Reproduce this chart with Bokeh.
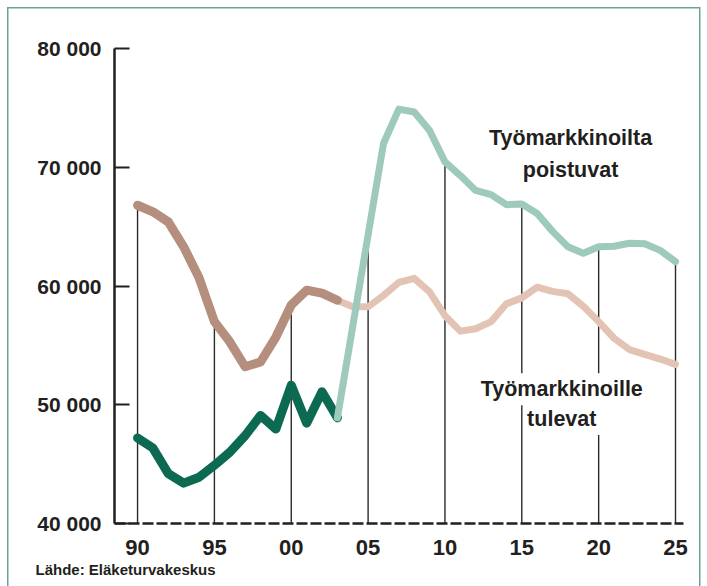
from bokeh.plotting import figure
from bokeh.models import FixedTicker, Label, Title
from bokeh.embed import file_html
from bokeh.resources import INLINE

# ---- data ----
years_hist = list(range(1990, 2004))
years_proj = list(range(2003, 2026))

entering_hist = [66800, 66250, 65400, 63300, 60700, 57000, 55300, 53200, 53600,
                 55700, 58400, 59650, 59400, 58800]
entering_proj = [58800, 58250, 58250, 59200, 60300, 60650, 59500, 57500, 56200,
                 56400, 57000, 58500, 59000, 59900, 59550, 59350, 58300, 57000,
                 55600, 54650, 54250, 53850, 53400]

leaving_hist = [47200, 46350, 44200, 43400, 43900, 44900, 46000, 47400, 49100,
                47950, 51650, 48450, 51100, 48900]
leaving_proj = [48900, 56600, 64300, 72000, 74900, 74650, 73100, 70450, 69300,
                68050, 67700, 66850, 66900, 66100, 64600, 63300, 62750, 63300,
                63350, 63600, 63550, 63000, 62050]

x_ticks = [1990, 1995, 2000, 2005, 2010, 2015, 2020, 2025]
x_tick_labels = ["90", "95", "00", "05", "10", "15", "20", "25"]
y_ticks = [40000, 50000, 60000, 70000, 80000]
y_tick_labels = ["40 000", "50 000", "60 000", "70 000", "80 000"]

label_leaving = ["Työmarkkinoilta", "poistuvat"]
label_entering = ["Työmarkkinoille", "tulevat"]
source_text = "Lähde: Eläketurvakeskus"

# ---- styling ----
FONT = "Liberation Sans"
TXT = "#231f20"
BROWN_D = "#b58e7e"
BROWN_L = "#e3c3b4"
GREEN_D = "#0d6a52"
TEAL_L = "#9ec9bd"
BORDER = "#6aa597"

frame_css = {
    "background-color": "white",
    "background-image": (f"linear-gradient({BORDER}, {BORDER}), "
                         f"linear-gradient({BORDER}, {BORDER}), "
                         f"linear-gradient({BORDER}, {BORDER})"),
    "background-size": "1.5px 600px, 693px 1.5px, 1.5px 600px",
    "background-position": "7px 7px, 7px 7px, 699px 7px",
    "background-repeat": "no-repeat",
}

p = figure(width=707, height=586, output_backend="svg", toolbar_location=None,
           x_range=(1988.5, 2025.52), y_range=(40000, 80000),
           min_border_left=114, min_border_right=24, min_border_top=48,
           min_border_bottom=63, styles=frame_css)
p.grid.visible = False
p.outline_line_color = None
p.background_fill_color = "white"
p.border_fill_color = None

# droplines at the labelled years, up to the top series value
all_vals = {}
for yrs, vals in ((years_hist, entering_hist), (years_proj, entering_proj),
                  (years_hist, leaving_hist), (years_proj, leaving_proj)):
    for yr, v in zip(yrs, vals):
        all_vals[yr] = max(all_vals.get(yr, 0), v)
drop_top = [all_vals[t] for t in x_ticks]
p.segment(x0=x_ticks, y0=[y_ticks[0]] * len(x_ticks), x1=x_ticks, y1=drop_top,
          line_color="#2a2a2a", line_width=1.4)

# series
p.line(years_proj, entering_proj, line_color=BROWN_L, line_width=7,
       line_cap="round", line_join="round")
p.line(years_hist, entering_hist, line_color=BROWN_D, line_width=9,
       line_cap="round", line_join="round")
p.line(years_hist, leaving_hist, line_color=GREEN_D, line_width=9,
       line_cap="round", line_join="round")
p.line(years_proj, leaving_proj, line_color=TEAL_L, line_width=7,
       line_cap="round", line_join="round")

# axes
xa = p.xaxis[0]
xa.ticker = FixedTicker(ticks=x_ticks)
xa.major_label_overrides = {t: l for t, l in zip(x_ticks, x_tick_labels)}
xa.axis_line_width = 2.5
xa.axis_line_color = TXT
xa.axis_line_dash = "11 3"
xa.major_tick_in = 0
xa.major_tick_out = 0
xa.minor_tick_line_color = None
xa.major_label_standoff = 16
xa.major_label_text_font = FONT
xa.major_label_text_font_style = "bold"
xa.major_label_text_font_size = "22px"
xa.major_label_text_color = TXT

ya = p.yaxis[0]
ya.ticker = FixedTicker(ticks=y_ticks)
ya.major_label_overrides = {t: l for t, l in zip(y_ticks, y_tick_labels)}
ya.axis_line_width = 2.5
ya.axis_line_color = TXT
ya.major_tick_in = 15
ya.major_tick_out = 0
ya.major_tick_line_width = 2
ya.major_tick_line_color = TXT
ya.minor_tick_line_color = None
ya.major_label_standoff = 13
ya.major_label_text_font = FONT
ya.major_label_text_font_style = "bold"
ya.major_label_text_font_size = "21px"
ya.major_label_text_color = TXT

# series labels
def add_label(x, y, text, bg=None):
    lab = Label(x=x, y=y, text=text, text_align="center", text_baseline="middle",
                text_font=FONT, text_font_style="bold", text_font_size="21.5px",
                text_color=TXT)
    if bg:
        lab.background_fill_color = bg
        lab.background_fill_alpha = 1.0
        lab.padding = 4
    p.add_layout(lab)

add_label(2018.17, 72500, label_leaving[0])
add_label(2018.17, 69730, label_leaving[1])
add_label(2017.6, 51300, label_entering[0], bg="white")
add_label(2017.6, 48800, label_entering[1], bg="white")

# source line under the x axis
src = Title(text=source_text, align="left", offset=-79, standoff=2,
            text_font=FONT, text_font_style="bold", text_font_size="15px",
            text_color=TXT)
p.add_layout(src, "below")

open("out.html", "w").write(file_html(p, INLINE))
